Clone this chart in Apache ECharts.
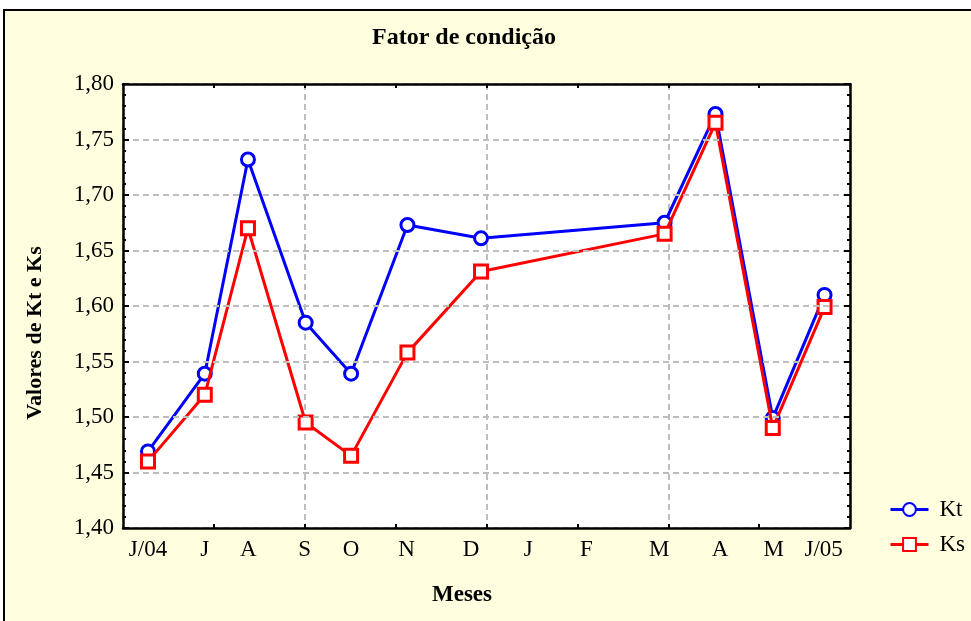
<!DOCTYPE html>
<html>
<head>
<meta charset="utf-8">
<script src="https://cdn.jsdelivr.net/npm/echarts@6/dist/echarts.min.js"></script>
<style>
  html, body { margin: 0; padding: 0; background: #fff; }
  #chart { width: 971px; height: 621px; }
</style>
</head>
<body>
<div id="chart"></div>
<script>
// sampling positions on the month scale (0 = start of June 2004)
const samplePos = [0.275, 0.9, 1.375, 2.01, 2.51, 3.13, 3.94, 5.96, 6.52, 7.15, 7.72];
const ktValues = [1.469, 1.539, 1.732, 1.585, 1.539, 1.673, 1.661, 1.675, 1.773, 1.499, 1.610];
const ksValues = [1.460, 1.520, 1.670, 1.495, 1.465, 1.558, 1.631, 1.665, 1.765, 1.490, 1.599];

// month tick labels and where they sit on the same scale
const monthLabels = ["J/04", "J", "A", "S", "O", "N", "D", "J", "F", "M", "A", "M", "J/05"];
const monthPos = [0.275, 0.9, 1.38, 2.0, 2.51, 3.12, 3.83, 4.46, 5.1, 5.9, 6.57, 7.16, 7.71];
const xTicks = [1, 2, 3, 4, 5, 6, 7];

const FONT = "Liberation Serif";

function monthLabel(v) {
  let best = 0;
  monthPos.forEach((p, i) => {
    if (Math.abs(p - v) < Math.abs(monthPos[best] - v)) best = i;
  });
  return monthLabels[best];
}

const dashed = { show: true, lineStyle: { color: "#bdbdbd", width: 2, type: [6, 4] } };
const axisLine = { show: true, onZero: false, lineStyle: { color: "#000", width: 2.5 } };
const tickStyle = { color: "#000", width: 2 };

const chart = echarts.init(document.getElementById("chart"), null, { renderer: "canvas" });

chart.setOption({
  animation: false,
  textStyle: { fontFamily: FONT },
  graphic: [
    {
      type: "rect",
      z: -100,
      shape: { x: 4, y: 10, width: 1000, height: 700 },
      style: { fill: "#ffffe0", stroke: "#000", lineWidth: 2 },
    },
    {
      type: "text",
      x: 35,
      y: 333,
      rotation: Math.PI / 2,
      style: {
        text: "Valores de Kt e Ks",
        font: "bold 22px 'Liberation Serif'",
        fill: "#000",
        align: "center",
        verticalAlign: "middle",
      },
    },
  ],
  title: [
    {
      text: "Fator de condição",
      left: 372,
      top: 26,
      padding: 0,
      textStyle: { fontFamily: FONT, fontSize: 24, fontWeight: "bold", color: "#000" },
    },
    {
      text: "Meses",
      left: 432,
      top: 584,
      padding: 0,
      textStyle: { fontFamily: FONT, fontSize: 23, fontWeight: "bold", color: "#000" },
    },
  ],
  legend: {
    orient: "vertical",
    left: 884,
    top: 493,
    itemWidth: 38,
    itemHeight: 16,
    itemGap: 12,
    data: ["Kt", "Ks"],
    lineStyle: { width: 3 },
    textStyle: { fontFamily: FONT, fontSize: 23, color: "#000", padding: [0, 0, 0, 6] },
  },
  grid: {
    left: 123,
    right: 121,
    top: 84,
    bottom: 93,
    show: true,
    backgroundColor: "#fff",
    borderWidth: 0,
  },
  xAxis: [
    {
      type: "value",
      position: "bottom",
      min: 0,
      max: 8,
      interval: 1,
      axisLine,
      axisTick: { show: true, inside: true, length: 4, customValues: xTicks, lineStyle: tickStyle },
      axisLabel: {
        customValues: monthPos,
        formatter: monthLabel,
        color: "#000",
        fontFamily: FONT,
        fontSize: 23,
        margin: 10,
        hideOverlap: false,
      },
      splitLine: { show: false },
      z: 5,
    },
    {
      type: "value",
      position: "top",
      min: 0,
      max: 8,
      interval: 1,
      axisLine,
      axisTick: { show: true, inside: true, length: 4, customValues: xTicks, lineStyle: tickStyle },
      axisLabel: { show: false },
      splitLine: { show: false },
      z: 5,
    },
    {
      // grid-only axis: a dashed line every two units
      type: "value",
      position: "top",
      min: 0,
      max: 8,
      interval: 2,
      axisLine: { show: false },
      axisTick: { show: false },
      axisLabel: { show: false },
      splitLine: dashed,
    },
  ],
  yAxis: [
    {
      type: "value",
      position: "left",
      min: 1.4,
      max: 1.8,
      interval: 0.05,
      axisLine,
      axisTick: { show: true, inside: true, length: 6, lineStyle: tickStyle },
      minorTick: { show: true, splitNumber: 5, length: 3, lineStyle: tickStyle },
      axisLabel: {
        formatter: (v) => v.toFixed(2).replace(".", ","),
        color: "#000",
        fontFamily: FONT,
        fontSize: 23,
        margin: 9,
      },
      splitLine: dashed,
      z: 5,
    },
    {
      type: "value",
      position: "right",
      min: 1.4,
      max: 1.8,
      interval: 0.05,
      axisLine,
      axisTick: { show: true, inside: true, length: 6, lineStyle: tickStyle },
      minorTick: { show: true, splitNumber: 5, length: 3, lineStyle: tickStyle },
      axisLabel: { show: false },
      splitLine: { show: false },
      z: 5,
    },
  ],
  series: [
    {
      name: "Kt",
      type: "line",
      data: samplePos.map((x, i) => [x, ktValues[i]]),
      symbol: "circle",
      symbolSize: 13,
      lineStyle: { color: "#0000ff", width: 3 },
      itemStyle: { color: "#fff", borderColor: "#0000ff", borderWidth: 3 },
      z: 3,
    },
    {
      name: "Ks",
      type: "line",
      data: samplePos.map((x, i) => [x, ksValues[i]]),
      symbol: "rect",
      symbolSize: 13,
      lineStyle: { color: "#ff0000", width: 3 },
      itemStyle: { color: "#fff", borderColor: "#ff0000", borderWidth: 3 },
      z: 4,
    },
  ],
});
</script>
</body>
</html>
